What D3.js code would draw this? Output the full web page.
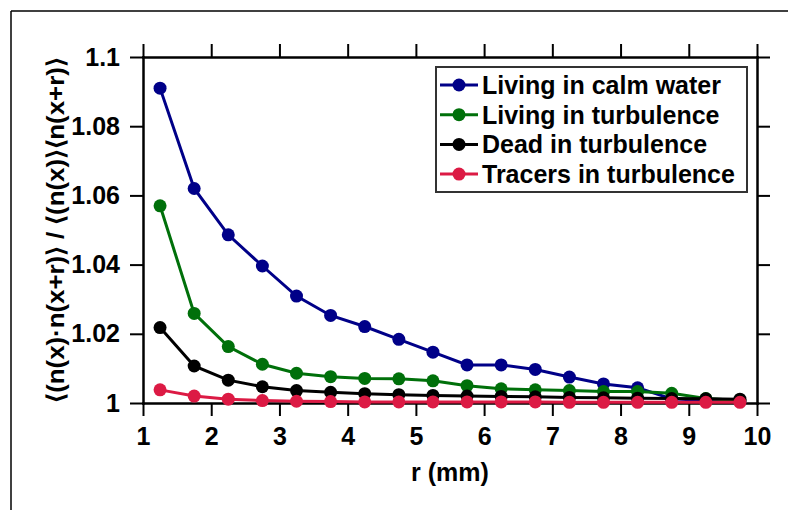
<!DOCTYPE html>
<html>
<head>
<meta charset="utf-8">
<script src="https://cdn.jsdelivr.net/npm/d3@7"></script>
<style>
body { margin: 0; background: #fff; }
svg text { font-family: "Liberation Sans", Arial, sans-serif; font-weight: bold; }
</style>
</head>
<body>
<div class="chart"></div>
<script>
var rValues = [1.25, 1.75, 2.25, 2.75, 3.25, 3.75, 4.25, 4.75, 5.25, 5.75, 6.25, 6.75, 7.25, 7.75, 8.25, 8.75, 9.25, 9.75];

var livingCalm = [1.091, 1.062, 1.0486, 1.0396, 1.0309, 1.0253, 1.0221, 1.0184, 1.0147, 1.011, 1.011, 1.0097, 1.0075, 1.0055, 1.0044, 1.0012, 1.0007, 1.0005];
var livingTurb = [1.057, 1.0259, 1.0163, 1.0112, 1.0086, 1.0076, 1.0071, 1.007, 1.0064, 1.005, 1.0041, 1.0038, 1.0036, 1.0033, 1.0033, 1.0028, 1.0013, 1.0007];
var deadTurb = [1.0218, 1.0107, 1.0066, 1.0047, 1.0036, 1.0031, 1.0027, 1.0024, 1.0022, 1.002, 1.0019, 1.0018, 1.0016, 1.0015, 1.0014, 1.0013, 1.0012, 1.0011];
var tracersTurb = [1.0038, 1.002, 1.0011, 1.0007, 1.0005, 1.0004, 1.0003, 1.0003, 1.0003, 1.0003, 1.0003, 1.0003, 1.0002, 1.0002, 1.0002, 1.0002, 1.0002, 1.0002];

var seriesNames = ["Living in calm water", "Living in turbulence", "Dead in turbulence", "Tracers in turbulence"];
var seriesColors = ["#000088", "#00700a", "#000000", "#dc1a44"];
var xTicks = [1, 2, 3, 4, 5, 6, 7, 8, 9, 10];
var yTicks = [1, 1.02, 1.04, 1.06, 1.08, 1.1];
var yTickLabels = ["1", "1.02", "1.04", "1.06", "1.08", "1.1"];

function drawChart(width, height) {
    var allSeries = [livingCalm, livingTurb, deadTurb, tracersTurb];
    var left = 143, right = 757, top = 57, bottom = 403;

    var x = d3.scaleLinear().domain([1, 10]).range([left, right]);
    var y = d3.scaleLinear().domain([1, 1.1]).range([bottom, top]);

    var svg = d3.select(".chart").append("svg")
        .attr("width", width)
        .attr("height", height);

    // outer frame (only top and left edges show)
    svg.append("line").attr("x1", 11).attr("y1", 11).attr("x2", width).attr("y2", 11)
        .attr("stroke", "#000").attr("stroke-width", 1.5);
    svg.append("line").attr("x1", 11).attr("y1", 11).attr("x2", 11).attr("y2", height)
        .attr("stroke", "#000").attr("stroke-width", 1.5);

    function styleAxis(g) {
        g.selectAll("path").attr("stroke", "#000").attr("stroke-width", 2.5);
        g.selectAll("line").attr("stroke", "#000").attr("stroke-width", 2);
        g.selectAll("text").attr("fill", "#000").style("font-size", "25px");
    }

    svg.append("g").attr("transform", "translate(0," + bottom + ")")
        .call(d3.axisBottom(x).tickValues(xTicks).tickSize(13).tickSizeOuter(0).tickPadding(11).tickFormat(d3.format("d")))
        .call(styleAxis);
    svg.append("g").attr("transform", "translate(0," + top + ")")
        .call(d3.axisTop(x).tickValues(xTicks).tickSize(13).tickSizeOuter(0).tickFormat(""))
        .call(styleAxis);
    svg.append("g").attr("transform", "translate(" + left + ",0)")
        .call(d3.axisLeft(y).tickValues(yTicks).tickSize(13).tickSizeOuter(0).tickPadding(10)
            .tickFormat(function(d, i){ return yTickLabels[i]; }))
        .call(styleAxis);
    svg.append("g").attr("transform", "translate(" + right + ",0)")
        .call(d3.axisRight(y).tickValues(yTicks).tickSize(13).tickSizeOuter(0).tickFormat(""))
        .call(styleAxis);

    svg.selectAll("g path.domain").attr("stroke-linecap", "square");

    svg.append("text")
        .attr("x", (left + right) / 2).attr("y", 481)
        .attr("text-anchor", "middle")
        .style("font-size", "25px")
        .text("r (mm)");

    svg.append("text")
        .attr("transform", "translate(64," + ((top + bottom) / 2) + ") rotate(-90)")
        .attr("text-anchor", "middle")
        .attr("textLength", 345)
        .attr("lengthAdjust", "spacingAndGlyphs")
        .style("font-size", "24px")
        .text("\u27E8(n(x)\u00B7n(x+r)\u27E9 / \u27E8(n(x)\u27E9\u27E8n(x+r)\u27E9");

    var line = d3.line()
        .x(function(d, i){ return x(rValues[i]); })
        .y(function(d){ return y(d); });

    allSeries.forEach(function(s, k) {
        var g = svg.append("g");
        g.append("path").datum(s)
            .attr("d", line)
            .attr("fill", "none")
            .attr("stroke", seriesColors[k])
            .attr("stroke-width", 3);
        g.selectAll("circle").data(s).enter().append("circle")
            .attr("cx", function(d, i){ return x(rValues[i]); })
            .attr("cy", function(d){ return y(d); })
            .attr("r", 6.5)
            .attr("fill", seriesColors[k]);
    });

    // legend
    var lg = svg.append("g");
    lg.append("rect")
        .attr("x", 436).attr("y", 67).attr("width", 311).attr("height", 125)
        .attr("fill", "#fff").attr("stroke", "#333").attr("stroke-width", 2);
    seriesNames.forEach(function(name, k) {
        var yy = 85 + k * 29.7;
        lg.append("line").attr("x1", 440).attr("x2", 478).attr("y1", yy).attr("y2", yy)
            .attr("stroke", seriesColors[k]).attr("stroke-width", 3);
        lg.append("circle").attr("cx", 459).attr("cy", yy).attr("r", 6.5).attr("fill", seriesColors[k]);
        lg.append("text").attr("x", 482).attr("y", yy + 9)
            .style("font-size", "25px")
            .text(name);
    });
}

window.onload = function(){
    drawChart(788, 510);
};
</script>
</body>
</html>
